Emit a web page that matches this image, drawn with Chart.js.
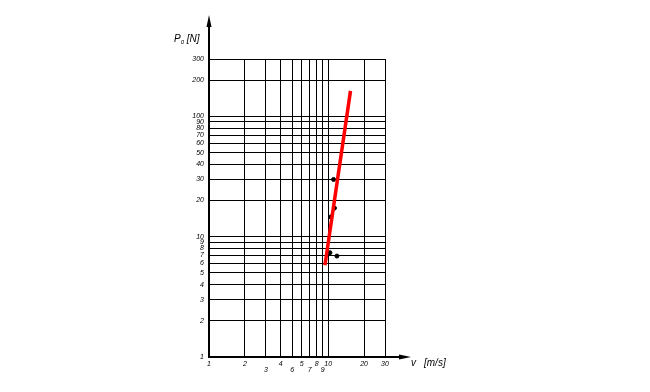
<!DOCTYPE html>
<html>
<head>
<meta charset="utf-8">
<script src="https://cdn.jsdelivr.net/npm/chart.js@4"></script>
<style>
  html, body { margin: 0; padding: 0; background: #fff; }
  #wrap { width: 650px; height: 392px; }
</style>
</head>
<body>
<div id="wrap"><canvas id="myChart"></canvas></div>
<script>
// tick values and the labels as they appear on the drawing
const xTicks = [1, 2, 3, 4, 5, 6, 7, 8, 9, 10, 20, 30];
const xTickLabels = ['1', '2', '3', '4', '6', '5', '7', '8', '9', '10', '20', '30'];
const xTickLower = [0, 0, 1, 0, 1, 0, 1, 0, 1, 0, 0, 0];
const yTicks = [1, 2, 3, 4, 5, 6, 7, 8, 9, 10, 20, 30, 40, 50, 60, 70, 80, 90, 100, 200, 300];
const yTickLabels = ['1', '2', '3', '4', '5', '6', '7', '8', '9', '10', '20', '30', '40', '50', '60', '70', '80', '90', '100', '200', '300'];

// red fitted line
const lineV = [9.4, 15.4];
const lineP = [5.8, 163];

// measured points
const dotV = [11.1, 11.3, 10.5, 10.35, 11.85];
const dotP = [29.9, 17.3, 14.6, 7.36, 6.9];

const tickFont = { family: 'Liberation Sans', size: 7, style: 'italic', lineHeight: 0.9 };

// axis arrows and axis titles
const axisArrows = {
  id: 'axisArrows',
  afterDraw(chart) {
    const ctx = chart.ctx;
    const a = chart.chartArea;
    ctx.save();
    ctx.strokeStyle = '#000';
    ctx.fillStyle = '#000';
    ctx.lineWidth = 2;
    ctx.beginPath();
    ctx.moveTo(a.left, a.top);
    ctx.lineTo(a.left, 20);
    ctx.moveTo(a.right, a.bottom);
    ctx.lineTo(402, a.bottom);
    ctx.stroke();

    ctx.beginPath();
    ctx.moveTo(a.left, 15);
    ctx.lineTo(a.left - 2.5, 27);
    ctx.lineTo(a.left + 2.5, 27);
    ctx.closePath();
    ctx.fill();

    ctx.beginPath();
    ctx.moveTo(411, a.bottom);
    ctx.lineTo(399, a.bottom - 2.5);
    ctx.lineTo(399, a.bottom + 2.5);
    ctx.closePath();
    ctx.fill();

    ctx.textBaseline = 'alphabetic';
    ctx.textAlign = 'left';
    ctx.font = 'italic 10px "Liberation Sans"';
    ctx.fillText('P', 174, 42);
    let w = ctx.measureText('P').width;
    ctx.font = 'italic 6px "Liberation Sans"';
    ctx.fillText('0', 174 + w, 44);
    let w2 = ctx.measureText('0').width;
    ctx.font = 'italic 10px "Liberation Sans"';
    ctx.fillText(' [N]', 174 + w + w2, 42);

    ctx.fillText('v', 411, 366);
    ctx.fillText('[m/s]', 424, 366);
    ctx.restore();
  }
};

const ctx = document.getElementById('myChart').getContext('2d');
const myChart = new Chart(ctx, {
  type: 'scatter',
  data: {
    datasets: [{
      label: 'line',
      data: lineV.map((v, i) => ({ x: v, y: lineP[i] })),
      showLine: true,
      borderColor: '#ff0000',
      borderWidth: 3.5,
      pointRadius: 0,
      order: 0
    }, {
      label: 'points',
      data: dotV.map((v, i) => ({ x: v, y: dotP[i] })),
      backgroundColor: '#000',
      borderColor: '#000',
      pointRadius: 2,
      order: 1
    }]
  },
  options: {
    responsive: true,
    maintainAspectRatio: false,
    animation: false,
    layout: { padding: { left: 0, right: 265, top: 59, bottom: 0 } },
    plugins: {
      legend: { display: false },
      tooltip: { enabled: false }
    },
    scales: {
      x: {
        type: 'logarithmic',
        min: 1,
        max: 30,
        afterBuildTicks: (scale) => { scale.ticks = xTicks.map(v => ({ value: v })); },
        afterFit: (scale) => { scale.height = 35; },
        grid: { color: '#000', lineWidth: 1, drawTicks: false },
        border: { color: '#000', width: 2 },
        ticks: {
          autoSkip: false,
          maxRotation: 0,
          padding: 4,
          color: '#000',
          font: tickFont,
          callback: (value) => {
            const i = xTicks.indexOf(value);
            if (i < 0) return '';
            return xTickLower[i] ? ['', xTickLabels[i]] : xTickLabels[i];
          }
        }
      },
      y: {
        type: 'logarithmic',
        min: 1,
        max: 300,
        afterBuildTicks: (scale) => { scale.ticks = yTicks.map(v => ({ value: v })); },
        afterFit: (scale) => { scale.width = 209; },
        grid: { color: '#000', lineWidth: 1, drawTicks: false },
        border: { color: '#000', width: 2 },
        ticks: {
          autoSkip: false,
          padding: 5,
          color: '#000',
          font: tickFont,
          callback: (value) => {
            const i = yTicks.indexOf(value);
            return i < 0 ? '' : yTickLabels[i];
          }
        }
      }
    }
  },
  plugins: [axisArrows]
});
</script>
</body>
</html>
